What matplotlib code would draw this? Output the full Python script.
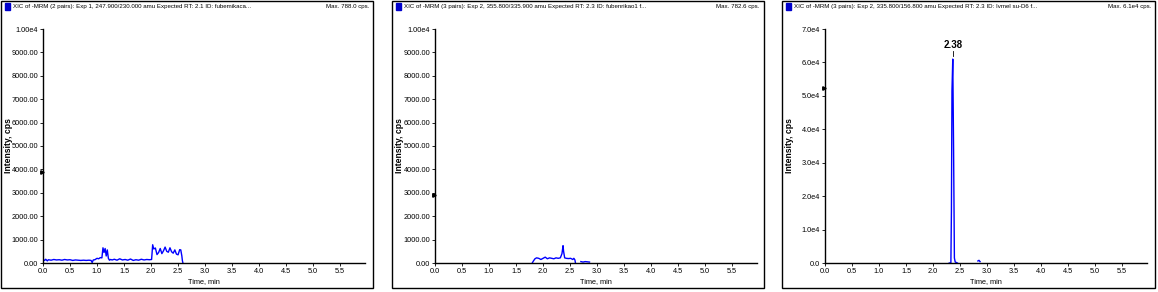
import matplotlib
matplotlib.use("Agg")
import matplotlib.pyplot as plt
from matplotlib.patches import Rectangle
from matplotlib.ticker import FixedLocator, FuncFormatter

plt.rcParams['font.family'] = ['Liberation Sans', 'DejaVu Sans']

# ---- data ----
titles = [
    "XIC of -MRM (2 pairs): Exp 1, 247.900/230.000 amu Expected RT: 2.1 ID: fubemikaca...",
    "XIC of -MRM (3 pairs): Exp 2, 355.800/335.900 amu Expected RT: 2.3 ID: fubenrikao1 f...",
    "XIC of -MRM (3 pairs): Exp 2, 335.800/156.800 amu Expected RT: 2.3 ID: Ivmel su-D6 f...",
]
max_labels = ["Max. 788.0 cps.", "Max. 782.6 cps.", "Max. 6.1e4 cps."]

t1 = [0.00, 0.03, 0.05, 0.08, 0.10, 0.15, 0.20, 0.25, 0.30, 0.35, 0.40, 0.45,
      0.50, 0.55, 0.60, 0.65, 0.70, 0.75, 0.80, 0.85, 0.89, 0.91, 0.93, 0.96,
      1.00, 1.03, 1.06, 1.09, 1.11, 1.13, 1.15, 1.17, 1.19, 1.21, 1.23, 1.25,
      1.28, 1.32, 1.37, 1.42, 1.47, 1.52, 1.57, 1.62, 1.67, 1.72, 1.77, 1.82,
      1.87, 1.92, 1.97, 2.01, 2.03, 2.05, 2.08, 2.11, 2.14, 2.17, 2.20, 2.23,
      2.26, 2.29, 2.32, 2.35, 2.38, 2.41, 2.44, 2.47, 2.50, 2.53, 2.55, 2.57,
      2.58, 2.59]
y1 = [150, 110, 160, 90, 140, 120, 150, 130, 140, 120, 150, 130,
      140, 110, 130, 120, 110, 120, 110, 120, 110, 20, 130, 140,
      200, 180, 230, 220, 650, 450, 620, 300, 560, 200, 120, 150,
      130, 160, 120, 180, 130, 150, 120, 170, 110, 140, 120, 160,
      130, 150, 140, 150, 780, 600, 640, 360, 450, 620, 400, 520,
      680, 500, 460, 650, 480, 420, 560, 380, 350, 570, 560, 300,
      100, 0]

t2 = [1.80, 1.82, 1.85, 1.88, 1.92, 1.96, 2.00, 2.04, 2.08, 2.12, 2.16, 2.20,
      2.24, 2.28, 2.32, 2.35, 2.37, 2.38, 2.40, 2.43, 2.47, 2.51, 2.55, 2.57,
      2.59, 2.60]
y2 = [0, 80, 180, 220, 200, 150, 200, 250, 180, 220, 200, 180,
      220, 200, 220, 400, 740, 500, 220, 200, 190, 200, 150, 200,
      130, 0]
t2b = [2.70, 2.74, 2.78, 2.82, 2.86]
y2b = [60, 40, 60, 50, 40]

t3 = [2.30, 2.33, 2.34, 2.35, 2.365, 2.38, 2.395, 2.41, 2.45]
y3 = [0, 0, 15500, 51500, 61000, 34000, 1500, 300, 0]
t3b = [2.83, 2.85, 2.87]
y3b = [600, 800, 400]

peak_rt = 2.37
peak_label = "2.38"
peak_height = 61000

marker_y = [3900, 2900, 52400]
y_max = [1.0e4, 1.0e4, 7.0e4]
x_ticks = [0.0, 0.5, 1.0, 1.5, 2.0, 2.5, 3.0, 3.5, 4.0, 4.5, 5.0, 5.5]

W, H = 1158, 292
fig = plt.figure(figsize=(W / 100, H / 100), dpi=100)

panel_x = [(1, 373), (392, 764), (782, 1155)]
axes_x = [(43, 365), (435, 757), (825, 1147)]
ax_top, ax_bot = 29, 263


def fmt_small(v, pos):
    if abs(v - 1e4) < 1:
        return "1.00e4"
    return f"{v:.2f}"


def fmt_big(v, pos):
    if v == 0:
        return "0.0"
    return f"{v / 1e4:.1f}e4"


series = [[(t1, y1)], [(t2, y2), (t2b, y2b)], [(t3, y3), (t3b, y3b)]]

for i in range(3):
    px0, px1 = panel_x[i]
    fig.patches.append(Rectangle((px0 / W, 4 / H), (px1 - px0) / W, 287 / H,
                                 transform=fig.transFigure, fill=False,
                                 edgecolor='black', linewidth=1.0))
    # title bar
    fig.patches.append(Rectangle(((px0 + 4) / W, (H - 10) / H), 5 / W, 7 / H,
                                 transform=fig.transFigure, color='#0000cc'))
    fig.text((px0 + 12) / W, (H - 6.5) / H, titles[i], fontsize=4.4,
             va='center', ha='left')
    fig.text((px1 - 4) / W, (H - 6.5) / H, max_labels[i], fontsize=4.4,
             va='center', ha='right')

    ax0, ax1 = axes_x[i]
    ax = fig.add_axes([ax0 / W, (H - ax_bot) / H, (ax1 - ax0) / W,
                       (ax_bot - ax_top) / H])
    for t, y in series[i]:
        ax.plot(t, y, color='#0000ff', linewidth=1.0)
    ax.set_xlim(0, 5.96)
    ax.set_ylim(0, y_max[i])
    ax.spines['top'].set_visible(False)
    ax.spines['right'].set_visible(False)
    ax.spines['left'].set_linewidth(1.0)
    ax.spines['bottom'].set_linewidth(1.0)
    ax.xaxis.set_major_locator(FixedLocator(x_ticks))
    ax.xaxis.set_major_formatter(FuncFormatter(lambda v, p: f"{v:.1f}"))
    step = y_max[i] / 10 if i < 2 else 1e4
    n = 11 if i < 2 else 8
    ax.yaxis.set_major_locator(FixedLocator([k * step for k in range(n)]))
    ax.yaxis.set_major_formatter(FuncFormatter(fmt_small if i < 2 else fmt_big))
    ax.tick_params(axis='both', labelsize=5.3, length=2, width=0.6, pad=1.5,
                   colors='black')
    ax.set_xlabel("Time, min", fontsize=5.3)
    ax.xaxis.set_label_coords(0.5, -0.065)
    ax.set_ylabel("Intensity, cps", fontsize=6.2, fontweight='bold')
    ax.yaxis.label.set_va('center')
    ax.yaxis.set_label_coords((px0 + 8 - ax0) / (ax1 - ax0), 0.5)
    ax.plot([-0.02], [marker_y[i]], marker='>', markersize=2.5, color='black',
            clip_on=False)
    if i == 2:
        ax.plot([peak_rt, peak_rt], [peak_height + 1000, peak_height + 2500],
                color='black', linewidth=0.6)
        ax.text(peak_rt, peak_height + 2600, peak_label, fontsize=7,
                ha='center', va='bottom', fontweight='bold')

fig.savefig("out.png", dpi=100)
